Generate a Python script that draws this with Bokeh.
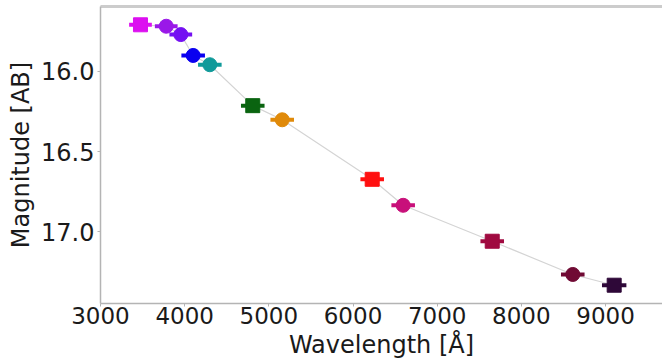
from bokeh.plotting import figure
from bokeh.models import Range1d, FixedTicker, PrintfTickFormatter, LinearAxis, ColumnDataSource
from bokeh.embed import file_html
from bokeh.resources import INLINE

# Data
wavelength = [3475, 3781, 3954, 4101, 4299, 4809, 5159, 6228, 6596, 7654, 8611, 9103]
magnitude = [15.709, 15.718, 15.770, 15.900, 15.958, 16.213, 16.301, 16.672, 16.834, 17.058, 17.265, 17.332]
wave_err = [135, 135, 135, 140, 140, 140, 140, 140, 140, 140, 140, 145]
markers = ["square", "circle", "circle", "circle", "circle", "square", "circle",
           "square", "circle", "square", "circle", "square"]
colors = ["#dc10f0", "#9a18e8", "#7410f2", "#0a00f0", "#109a9a", "#0a6410", "#e08a0a",
          "#ff1010", "#c8107a", "#a00a40", "#700a34", "#2e0838"]
x_ticks = [3000, 4000, 5000, 6000, 7000, 8000, 9000]
y_ticks = [16.0, 16.5, 17.0]

FONT = "DejaVu Sans"

p = figure(width=662, height=361, output_backend="svg", toolbar_location=None,
           x_range=Range1d(3000, 9677), y_range=Range1d(17.446, 15.595),
           min_border_left=100, min_border_right=0, min_border_top=6, min_border_bottom=58)
p.outline_line_color = None
p.xgrid.visible = False
p.ygrid.visible = False
p.background_fill_color = "white"
p.border_fill_color = "white"

lo = [w - e for w, e in zip(wavelength, wave_err)]
hi = [w + e for w, e in zip(wavelength, wave_err)]
src = ColumnDataSource(dict(x=wavelength, y=magnitude, lo=lo, hi=hi, m=markers, c=colors))

p.line(wavelength, magnitude, line_color="#d4d4d4", line_width=1.2)
p.segment(x0="lo", y0="y", x1="hi", y1="y", line_color="c", line_width=4, source=src)
p.scatter(x="x", y="y", marker="m", fill_color="c", line_color="c", size=14, source=src)

for ax in (p.xaxis[0], p.yaxis[0]):
    ax.axis_line_color = "#b4b4b4"
    ax.axis_line_width = 1.5
    ax.major_tick_line_color = "#b4b4b4"
    ax.major_tick_out = 3
    ax.major_tick_in = 0
    ax.minor_tick_out = 0
    ax.minor_tick_in = 0
    ax.major_label_text_font = FONT
    ax.major_label_text_font_size = "23px"
    ax.major_label_text_color = "#1a1a1a"
    ax.axis_label_text_font = FONT
    ax.axis_label_text_font_size = "24px"
    ax.axis_label_text_font_style = "normal"
    ax.axis_label_text_color = "#1a1a1a"

p.xaxis[0].ticker = FixedTicker(ticks=x_ticks)
p.xaxis[0].formatter = PrintfTickFormatter(format="%d")
p.xaxis[0].axis_label = "Wavelength [Å]"
p.xaxis[0].major_label_standoff = 0
p.xaxis[0].axis_label_standoff = 4

p.yaxis[0].ticker = FixedTicker(ticks=y_ticks)
p.yaxis[0].formatter = PrintfTickFormatter(format="%.1f")
p.yaxis[0].major_label_text_font_size = "24px"
p.yaxis[0].axis_label = "Magnitude [AB]"
p.yaxis[0].major_label_standoff = 3
p.yaxis[0].axis_label_standoff = 3

top = LinearAxis(ticker=FixedTicker(ticks=[]), major_label_text_font_size="0px",
                 axis_line_color="#cccccc", axis_line_width=3,
                 major_tick_out=0, major_tick_in=0, minor_tick_out=0, minor_tick_in=0,
                 major_label_standoff=0)
p.add_layout(top, "above")

open("out.html", "w").write(file_html(p, INLINE))
